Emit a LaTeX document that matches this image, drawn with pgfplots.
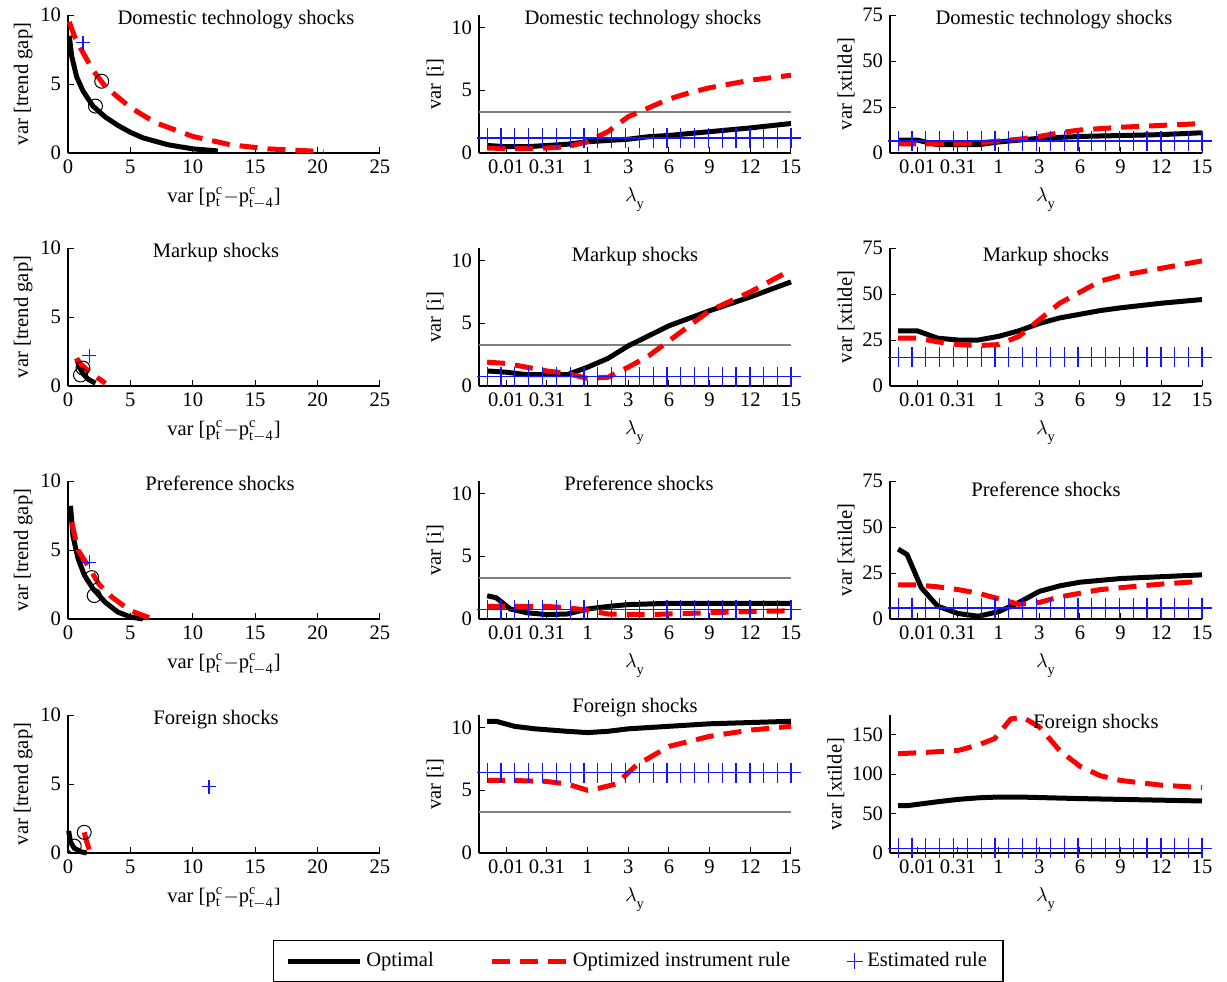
\documentclass[border=0pt]{standalone}
\usepackage{pgfplots}
\pgfplotsset{compat=1.18}
\usepackage{fontspec}
\setmainfont{Liberation Serif}
\definecolor{myblue}{RGB}{20,20,255}
\pgfplotsset{
 base/.style={scale only axis, width=156pt, height=69pt, axis lines=left,
  axis line style={-, line width=0.6pt}, tick align=inside, major tick length=3pt,
  tick style={black, line width=0.5pt},
  font=\fontsize{10.3}{12}\selectfont, /pgf/number format/assume math mode=true,
  title style={at={(0.5,1.0)}, anchor=north, yshift=0pt},
  clip=false, ylabel shift=-3pt},
 lcol/.style={base, xmin=0, xmax=25, ymin=0, ymax=10, xtick={0,5,...,25}, ytick={0,5,10},
  xlabel={var [p$^{\mathrm{c}}_{\mathrm{t}}$$-$p$^{\mathrm{c}}_{\mathrm{t-4}}$]}, ylabel={var [trend gap]}},
 mcol/.style={base, xmin=0.33, xmax=8, xtick={1,...,8}, xticklabels={0.01,0.31,1,3,6,9,12,15},
  xlabel={$\lambda_{\raisebox{-2pt}{$\scriptstyle\mathrm{y}$}}$}},
 mi/.style={mcol, ymin=0, ymax=11, ytick={0,5,10}, ylabel={var [i]}},
 mx/.style={mcol, ymin=0, ymax=75, ytick={0,25,50,75}, ylabel={var [xtilde]}},
 opt/.style={black, line width=2.5pt, forget plot},
 oir/.style={red, line width=2.5pt, dash pattern=on 9pt off 5pt, forget plot},
 est/.style={myblue, line width=0.6pt, mark=+, mark size=5pt, forget plot},
 estp/.style={myblue, only marks, mark=+, mark size=3.5pt, mark options={line width=0.6pt}, forget plot},
 circ/.style={black, only marks, mark=o, mark size=3.5pt, mark options={line width=0.5pt}, forget plot},
 gr/.style={gray, line width=1pt, forget plot},
}
\newcommand{\blue}[1]{\addplot[est] coordinates {(0.53,#1)(0.87,#1)(1.21,#1)(1.55,#1)(1.89,#1)(2.23,#1)(2.57,#1)(2.91,#1)(3.25,#1)(3.59,#1)(3.93,#1)(4.27,#1)(4.61,#1)(4.95,#1)(5.29,#1)(5.63,#1)(5.97,#1)(6.31,#1)(6.65,#1)(6.99,#1)(7.33,#1)(7.67,#1)(8,#1)};}
\begin{document}
\begin{tikzpicture}
\path[use as bounding box] (0,0) rectangle (613.5pt,-490.5pt);
% Row 1
\begin{axis}[lcol, at={(34pt,-76.5pt)}, anchor=south west, title={Domestic technology shocks}, title style={xshift=6pt}]
\addplot[opt] coordinates {(0.1,8.5)(0.3,7)(0.7,5.5)(1.2,4.5)(2,3.4)(3,2.6)(4,2)(5,1.5)(6,1.1)(8,0.6)(10,0.3)(12,0.15)};
\addplot[oir] coordinates {(0.1,9.5)(0.5,8.5)(1,7.6)(2,6)(3,4.8)(5,3.3)(7,2.2)(10,1.2)(13,0.6)(16,0.3)(20.5,0.1)};
\addplot[estp] coordinates {(1.2,8)};
\addplot[circ] coordinates {(2.7,5.2)(2.2,3.4)};
\end{axis}
\begin{axis}[mi, at={(239.5pt,-76.5pt)}, anchor=south west, title={Domestic technology shocks}, title style={xshift=4pt}]
\addplot[gr] coordinates {(0.33,3.3)(8,3.3)};
\blue{1.2}
\addplot[opt] coordinates {(0.53,0.6)(1,0.5)(1.5,0.5)(2,0.6)(2.5,0.7)(3,0.9)(3.5,1.0)(4,1.1)(4.5,1.3)(5,1.4)(5.5,1.55)(6,1.7)(7,2.0)(8,2.35)};
\addplot[oir] coordinates {(0.53,0.4)(1,0.35)(1.5,0.35)(2,0.4)(2.5,0.5)(3,0.9)(3.5,1.7)(4,2.9)(4.5,3.6)(5,4.3)(5.5,4.8)(6,5.2)(7,5.8)(8,6.2)};
\end{axis}
\begin{axis}[mx, at={(445pt,-76.5pt)}, anchor=south west, title={Domestic technology shocks}, title style={xshift=4pt}]
\blue{6.5}
\addplot[opt] coordinates {(0.53,7)(1,7)(1.5,4.5)(2,4.5)(2.5,4.5)(3,6)(3.5,7)(4,8)(4.5,8.5)(5,9)(6,9.5)(7,10)(8,11)};
\addplot[oir] coordinates {(0.53,5)(1,5)(1.5,5)(2,5)(2.5,5.5)(3,6.5)(3.5,7.5)(4,9)(4.5,11)(5,12.5)(6,14)(7,15)(8,16)};
\end{axis}
% Row 2
\begin{axis}[lcol, at={(34pt,-193pt)}, anchor=south west, title={Markup shocks}, title style={xshift=-4pt}]
\addplot[opt] coordinates {(0.7,2)(0.9,1.4)(1.2,0.9)(1.6,0.5)(2.2,0.2)};
\addplot[oir] coordinates {(0.7,2)(1,1.6)(1.5,1.2)(2.2,0.7)(3,0.2)};
\addplot[estp] coordinates {(1.7,2.2)};
\addplot[circ] coordinates {(1.2,1.3)(1.0,0.8)};
\end{axis}
\begin{axis}[mi, at={(239.5pt,-193pt)}, anchor=south west, title={Markup shocks}, title style={yshift=-2pt}]
\addplot[gr] coordinates {(0.33,3.3)(8,3.3)};
\blue{0.75}
\addplot[opt] coordinates {(0.53,1.2)(1,1.1)(1.5,0.9)(2,0.9)(2.5,0.9)(3,1.5)(3.5,2.2)(4,3.2)(4.5,4)(5,4.8)(5.5,5.4)(6,6)(7,7.1)(8,8.3)};
\addplot[oir] coordinates {(0.53,1.9)(1,1.8)(1.5,1.5)(2,1.2)(2.5,1.0)(3,0.6)(3.5,0.7)(4,1.5)(4.5,2.4)(5,3.6)(5.5,4.8)(6,6)(7,7.5)(7.8,8.9)};
\end{axis}
\begin{axis}[mx, at={(445pt,-193pt)}, anchor=south west, title={Markup shocks}, title style={yshift=-2pt}]
\blue{15.5}
\addplot[opt] coordinates {(0.53,30)(1,30)(1.5,26)(2,25)(2.5,25)(3,27)(3.5,30)(4,34)(4.5,37)(5,39)(5.5,41)(6,42.5)(7,45)(8,47)};
\addplot[oir] coordinates {(0.53,26)(1,26)(1.5,24)(2,22.5)(2.5,22)(3,22.5)(3.5,27)(4,36)(4.5,45)(5,51)(5.5,57)(6,60)(7,64)(8,68)};
\end{axis}
% Row 3
\begin{axis}[lcol, at={(34pt,-309.5pt)}, anchor=south west, title={Preference shocks}, title style={xshift=-2pt}]
\addplot[opt] coordinates {(0.2,8.2)(0.4,6)(0.8,4.4)(1.3,3.2)(2,2.2)(3,1.2)(4,0.5)(5,0.15)(6,0)};
\addplot[oir] coordinates {(0.3,7)(0.8,5)(1.5,4)(2.5,2.5)(3.5,1.6)(5,0.6)(6.5,0.1)};
\addplot[estp] coordinates {(1.7,4.1)};
\addplot[circ] coordinates {(1.9,3.0)(2.1,1.7)};
\end{axis}
\begin{axis}[mi, at={(239.5pt,-309.5pt)}, anchor=south west, title={Preference shocks}, title style={xshift=2pt}]
\addplot[gr] coordinates {(0.33,3.3)(8,3.3)};
\blue{0.75}
\addplot[opt] coordinates {(0.53,1.85)(0.75,1.7)(1.1,0.8)(1.5,0.5)(2,0.35)(2.5,0.4)(3,0.8)(3.5,1.0)(4,1.15)(4.5,1.2)(5,1.25)(8,1.25)};
\addplot[oir] coordinates {(0.53,1.0)(1,1.0)(2,1.0)(2.5,0.9)(3,0.7)(3.5,0.4)(4.5,0.35)(5,0.4)(6,0.5)(7,0.6)(8,0.65)};
\end{axis}
\begin{axis}[mx, at={(445pt,-309.5pt)}, anchor=south west, title={Preference shocks}, title style={yshift=-3pt}]
\blue{6}
\addplot[opt] coordinates {(0.53,38)(0.75,35)(1.1,17)(1.5,7)(2,3)(2.5,1.5)(3,4)(3.5,9)(4,15)(4.5,18)(5,20)(5.5,21)(6,22)(7,23)(8,24)};
\addplot[oir] coordinates {(0.53,18.5)(1,18.5)(1.5,17.5)(2,16)(2.5,14)(3,11)(3.5,8)(4,9)(4.5,12)(5,14)(5.5,16)(6,17)(7,19)(8,20.5)};
\end{axis}
% Row 4
\begin{axis}[lcol, at={(34pt,-426.5pt)}, anchor=south west, title={Foreign shocks}, title style={xshift=-4pt}]
\addplot[opt] coordinates {(0.05,1.6)(0.2,0.8)(0.5,0.35)(1,0.1)(1.5,0)};
\addplot[oir] coordinates {(1.3,1.5)(1.5,0.8)(1.8,0)};
\addplot[estp] coordinates {(11.3,4.8)};
\addplot[circ] coordinates {(1.3,1.5)(0.5,0.5)};
\end{axis}
\begin{axis}[mi, at={(239.5pt,-426.5pt)}, anchor=south west, title={Foreign shocks}, title style={yshift=6pt},
  legend columns=3, legend style={at={(0.51,-0.63)}, anchor=north, draw=black, line width=0.6pt, font=\fontsize{10.3}{12}\selectfont,
  inner xsep=6pt, inner ysep=4pt, /tikz/every even column/.append style={column sep=26pt}}]
\addplot[gr] coordinates {(0.33,3.3)(8,3.3)};
\blue{6.4}
\addplot[opt] coordinates {(0.53,10.5)(0.75,10.5)(1.2,10.1)(1.7,9.9)(2.5,9.7)(3,9.6)(3.5,9.7)(4,9.9)(5,10.1)(6,10.3)(7,10.4)(8,10.5)};
\addplot[oir] coordinates {(0.53,5.8)(1,5.8)(2,5.7)(2.5,5.5)(3,5.0)(3.2,5.1)(3.7,5.5)(4.2,7)(5,8.5)(6,9.3)(7,9.8)(8,10.1)};
\addlegendimage{legend image code/.code={\draw[black, line width=2.5pt] (0pt,0pt)--(36pt,0pt);}}
\addlegendentry{Optimal}
\addlegendimage{legend image code/.code={\draw[red, line width=2.5pt, dash pattern=on 9pt off 5pt] (0pt,0pt)--(37pt,0pt);}}
\addlegendentry{Optimized instrument rule}
\addlegendimage{legend image code/.code={\draw[myblue, line width=0.6pt] (14pt,0pt)--(22pt,0pt) (18pt,-4pt)--(18pt,4pt);}}
\addlegendentry{Estimated rule}
\end{axis}
\begin{axis}[mcol, ymin=0, ymax=175, ytick={0,50,100,150}, ylabel={var [xtilde]}, at={(445pt,-426.5pt)}, anchor=south west,
  title={Foreign shocks}, title style={at={(0.66,1)}, yshift=-2pt}]
\blue{6}
\addplot[opt] coordinates {(0.53,60)(0.75,60)(1.5,65)(2,68)(2.5,70)(3,71)(3.5,71)(5,69)(6,68)(7,67)(8,66)};
\addplot[oir] coordinates {(0.53,126)(1,127)(2,130)(2.5,137)(2.9,145)(3.3,170)(3.6,172)(4,160)(4.5,130)(5,110)(5.5,98)(6,92)(7,86)(8,83)};
\end{axis}
\end{tikzpicture}
\end{document}
